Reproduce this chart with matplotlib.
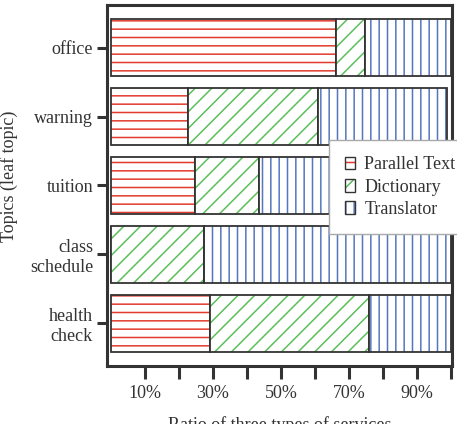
import numpy as np
import matplotlib.pyplot as plt
from matplotlib.legend_handler import HandlerBase

# topics (bottom to top) and share of each service type, in %
topics = ["health\ncheck", "class\nschedule", "tuition", "warning", "office"]
parallel = [29.2, 0.0, 24.6, 22.7, 66.1]
dictionary = [46.8, 27.3, 19.0, 38.3, 8.5]
translator = [24.0, 72.7, 56.4, 37.7, 25.4]
xticks = [10, 20, 30, 40, 50, 60, 70, 80, 90, 100]
xticklabels = ["10%", "", "30%", "", "50%", "", "70%", "", "90%", ""]

plt.rcParams['font.family'] = ['Liberation Serif', 'DejaVu Serif']
plt.rcParams['hatch.linewidth'] = 1.1
plt.rcParams['text.color'] = '#333333'
plt.rcParams['axes.labelcolor'] = '#333333'
plt.rcParams['xtick.color'] = '#333333'
plt.rcParams['ytick.color'] = '#333333'

dark = '#333333'
red = '#e23b2e'
green = '#5cbf5c'
blue = '#5577bb'


class HatchBox(HandlerBase):
    # hatched square with a dark outline, like the bars
    def create_artists(self, legend, orig, xd, yd, width, height, fontsize, trans):
        r = plt.Rectangle((xd, yd), width, height, facecolor='white',
                          edgecolor=orig.get_edgecolor(), hatch=orig.get_hatch(),
                          linewidth=0, transform=trans)
        o = plt.Rectangle((xd, yd), width, height, facecolor='none',
                          edgecolor=dark, linewidth=1.0, transform=trans)
        return [r, o]


fig = plt.figure(figsize=(4.57, 4.24), dpi=100)
ax = fig.add_axes([107/457, 1-366/424, 345/457, 361/424])

y = np.arange(len(topics))
h = 0.83
left = np.zeros(len(topics))
series = [(parallel, red, '--', "Parallel Text"),
          (dictionary, green, '//', "Dictionary"),
          (translator, blue, '||', "Translator")]
handles = []
for vals, col, hatch, name in series:
    vals = np.array(vals)
    ax.barh(y, vals, height=h, left=left, color='white',
            edgecolor=col, hatch=hatch, linewidth=0)
    ax.barh(y, vals, height=h, left=left, color='none',
            edgecolor=dark, linewidth=1.3)
    handles.append(plt.Rectangle((0, 0), 1, 1, facecolor='white',
                                 edgecolor=col, hatch=hatch, linewidth=0))
    left = left + vals

ax.set_xlim(-1.2, 100.3)
ax.set_ylim(-0.62, 4.62)
ax.set_yticks(y)
ax.set_yticklabels(topics, fontsize=13, linespacing=1.2)
ax.set_xticks(xticks)
ax.set_xticklabels(xticklabels, fontsize=13)
ax.tick_params(axis='x', length=9, width=2.2, pad=5)
ax.tick_params(axis='y', length=7, width=2.2, pad=3)
for s in ax.spines.values():
    s.set_linewidth(2.2)
    s.set_color(dark)

ax.set_xlabel("Ratio of three types of services", fontsize=13, labelpad=10)
ax.set_ylabel("Topics (leaf topic)", fontsize=13)
ax.yaxis.set_label_coords(-0.258, 0.526)

fig.legend(handles, [s[3] for s in series], handler_map={plt.Rectangle: HatchBox()},
           loc='upper left', bbox_to_anchor=(329/457, 1-140/424),
           fontsize=13, frameon=True, fancybox=False, edgecolor='#aaaaaa',
           framealpha=1, handlelength=0.55, handleheight=0.7, handletextpad=0.5,
           labelspacing=0.3, borderpad=0.9, borderaxespad=0)

fig.savefig("out.png", dpi=100)
